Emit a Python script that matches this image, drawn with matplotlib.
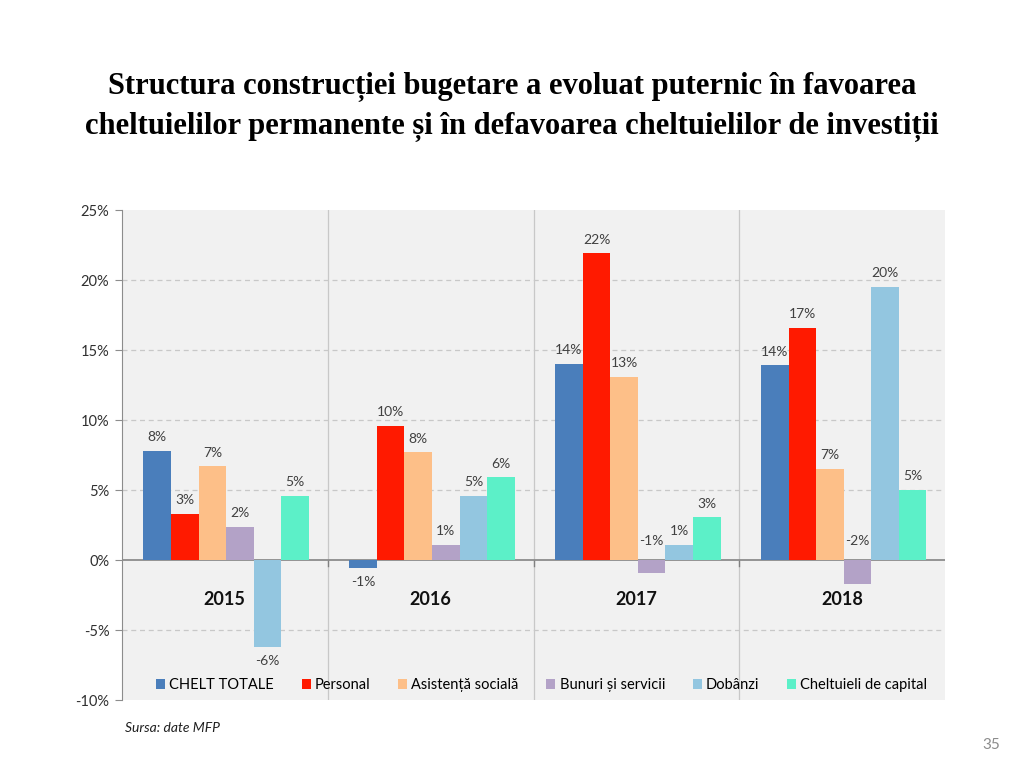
import matplotlib
matplotlib.use("Agg")
import matplotlib.pyplot as plt
import numpy as np

years = ["2015", "2016", "2017", "2018"]
series = ["CHELT TOTALE", "Personal", "Asistență socială", "Bunuri și servicii", "Dobânzi", "Cheltuieli de capital"]
chelt_totale = [7.8, -0.55, 14.0, 13.9]
personal = [3.3, 9.6, 21.9, 16.6]
asistenta = [6.7, 7.7, 13.1, 6.5]
bunuri = [2.35, 1.1, -0.9, -1.7]
dobanzi = [-6.2, 4.6, 1.1, 19.5]
capital = [4.6, 5.9, 3.05, 5.0]
colors = ["#4a7ebb", "#ff1a00", "#fdbf88", "#b3a2c7", "#93c6e0", "#5cf0c8"]
yticks = [-10, -5, 0, 5, 10, 15, 20, 25]

data = [chelt_totale, personal, asistenta, bunuri, dobanzi, capital]

plt.rcParams['font.family'] = ['Lato', 'DejaVu Sans']
fig = plt.figure(figsize=(10.24, 7.68), dpi=100)
ax = fig.add_axes([0.119, 0.0885, 0.804, 0.638])
ax.set_facecolor("#f1f1f1")

x = np.arange(len(years))
w = 0.134
n = len(series)
for i, (name, vals, c) in enumerate(zip(series, data, colors)):
    pos = x + (i - (n - 1) / 2) * w + 0.007
    ax.bar(pos, vals, w, color=c, label=name, zorder=3)
    for p, v in zip(pos, vals):
        txt = f"{round(v + (0.001 if v > 0 else -0.001)):.0f}%"
        if v >= 0:
            ax.text(p, v + 0.55, txt, ha="center", va="bottom", fontsize=10, color="#404040", zorder=4)
        elif name == "Bunuri și servicii":
            ax.text(p, 0.9, txt, ha="center", va="bottom", fontsize=10, color="#404040", zorder=4)
        else:
            ax.text(p, v - 0.6, txt, ha="center", va="top", fontsize=10, color="#404040", zorder=4)

ax.set_xlim(-0.5, 3.5)
ax.set_ylim(-10, 25)
ax.set_yticks(yticks)
ax.set_yticklabels([f"{t}%" for t in yticks], fontsize=10.5, color="#303030")
for t in [5, 10, 15, 20, -5]:
    ax.axhline(t, color="#c8c8c8", lw=0.9, ls=(0, (4, 3)), zorder=1)
for s in [0.5, 1.5, 2.5]:
    ax.axvline(s, color="#c8c8c8", lw=0.9, zorder=1)
    ax.plot([s, s], [0, -0.45], color="#808080", lw=1, zorder=2)
ax.axhline(0, color="#8c8c8c", lw=1.3, zorder=2)
ax.set_xticks([])
for xi, yl in zip(x, years):
    ax.text(xi, -2.8, yl, ha="center", va="center", fontsize=13, fontweight="bold", color="#111111")

for sp in ["top", "right", "bottom"]:
    ax.spines[sp].set_visible(False)
ax.spines["left"].set_color("#8c8c8c")
ax.tick_params(axis="y", length=5, color="#8c8c8c", pad=4)

leg = ax.legend(loc="lower center", bbox_to_anchor=(0.51, 0.0), ncol=6, frameon=False,
                fontsize=10.5, handlelength=0.6, handleheight=0.6, handletextpad=0.3,
                columnspacing=1.9, borderaxespad=0.15)

fig.text(0.5, 0.887, "Structura construcției bugetare a evoluat puternic în favoarea",
         ha="center", va="center", fontsize=22, fontweight="bold", family="Liberation Serif")
fig.text(0.5, 0.834, "cheltuielilor permanente și în defavoarea cheltuielilor de investiții",
         ha="center", va="center", fontsize=22, fontweight="bold", family="Liberation Serif")
fig.text(0.122, 0.052, "Sursa: date MFP", ha="left", va="center", fontsize=10, style="italic", color="#202020")
fig.text(0.977, 0.03, "35", ha="right", va="center", fontsize=11, color="#8c8c8c")

fig.savefig("out.png", dpi=100)
